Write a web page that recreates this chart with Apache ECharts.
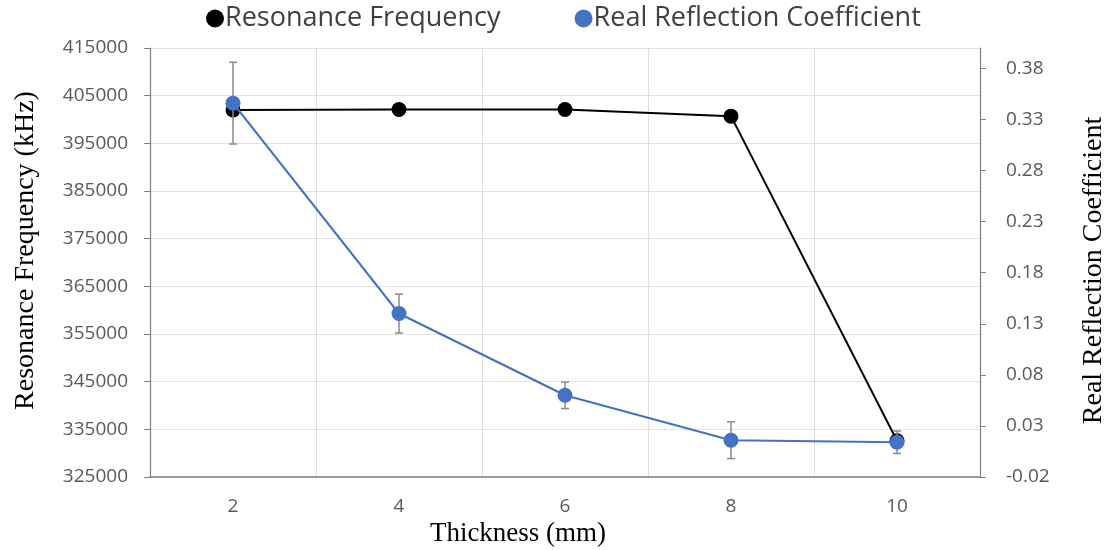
<!DOCTYPE html>
<html><head><meta charset="utf-8">
<script src="https://cdn.jsdelivr.net/npm/echarts@6/dist/echarts.min.js"></script>
<style>html,body{margin:0;padding:0;background:#fff}#c{width:1109px;height:550px}</style>
</head><body><div id="c"></div>
<script>
const thickness = ['2', '4', '6', '8', '10'];
const resonanceFreq = [402000, 402100, 402100, 400700, 332600];
const reflection = [0.346, 0.140, 0.060, 0.016, 0.014];
const reflectionErr = [0.040, 0.019, 0.013, 0.018, 0.011];
const freqTicks = { min: 325000, max: 415000, interval: 10000 };
const reflTicks = { min: -0.02, max: 0.40, interval: 0.05 };

const errData = thickness.map((t, i) => [i, reflection[i] - reflectionErr[i], reflection[i] + reflectionErr[i]]);

const chart = echarts.init(document.getElementById('c'), null, { renderer: 'canvas' });
const labelFont = 'Open Sans';
chart.setOption({
  animation: false,
  backgroundColor: '#fff',
  legend: {
    top: 0, left: 201,
    icon: 'circle', itemWidth: 18, itemHeight: 18, itemGap: 74,
    textStyle: { fontFamily: labelFont, fontSize: 27, color: '#404040', padding: [0, 0, 0, -4] },
    data: ['Resonance Frequency', 'Real Reflection Coefficient']
  },
  grid: { left: 150, right: 129, top: 48, bottom: 73, containLabel: false, outerBoundsMode: 'none' },
  xAxis: {
    type: 'category', data: thickness, boundaryGap: true,
    name: 'Thickness (mm)', nameLocation: 'middle', nameGap: 38,
    nameTextStyle: { fontFamily: 'Liberation Serif', fontSize: 27, color: '#000', padding: [0, 94, 0, 0] },
    axisLine: { onZero: false, lineStyle: { color: '#7f7f7f', width: 1.5 } },
    axisTick: { show: false },
    axisLabel: { fontFamily: labelFont, fontSize: 19, color: '#595959', margin: 20 },
    splitLine: { show: true, lineStyle: { color: '#dedede', width: 1 } }
  },
  yAxis: [{
    type: 'value', min: freqTicks.min, max: freqTicks.max, interval: freqTicks.interval,
    name: 'Resonance Frequency (kHz)', nameLocation: 'middle', nameGap: 110, nameRotate: 90,
    nameTextStyle: { fontFamily: 'Liberation Serif', fontSize: 28, color: '#000', padding: [0, 0, 0, 24] },
    axisLine: { show: true, lineStyle: { color: '#7f7f7f', width: 1.2 } },
    axisTick: { show: true, length: 6, lineStyle: { color: '#7f7f7f' } },
    axisLabel: { fontFamily: labelFont, fontSize: 19, color: '#595959', margin: 22, formatter: v => String(v) },
    splitLine: { show: true, lineStyle: { color: '#e3e3e3', width: 1 } }
  }, {
    type: 'value', min: reflTicks.min, max: reflTicks.max, interval: reflTicks.interval,
    name: 'Real Reflection Coefficient', nameLocation: 'middle', nameGap: 100, nameRotate: 90,
    nameTextStyle: { fontFamily: 'Liberation Serif', fontSize: 28, color: '#000', padding: [0, 16, 0, 0] },
    axisLine: { show: true, lineStyle: { color: '#7f7f7f', width: 1.2 } },
    axisTick: { show: true, length: 6, lineStyle: { color: '#7f7f7f' } },
    axisLabel: { fontFamily: labelFont, fontSize: 19, color: '#595959', margin: 26, showMaxLabel: false,
      formatter: v => v.toFixed(2) },
    splitLine: { show: false }
  }],
  series: [{
    name: 'Resonance Frequency', type: 'line', yAxisIndex: 0, data: resonanceFreq,
    symbol: 'circle', symbolSize: 15, z: 3,
    itemStyle: { color: '#000' }, lineStyle: { color: '#000', width: 2 }
  }, {
    name: 'errbars', type: 'custom', yAxisIndex: 1, data: errData, z: 4,
    encode: { x: 0, y: [1, 2] },
    renderItem: (params, api) => {
      const x = api.value(0);
      const lo = api.coord([x, api.value(1)]);
      const hi = api.coord([x, api.value(2)]);
      const w = 4;
      const st = { stroke: '#8a8a8a', lineWidth: 1.5 };
      return { type: 'group', children: [
        { type: 'line', shape: { x1: lo[0], y1: lo[1], x2: hi[0], y2: hi[1] }, style: st },
        { type: 'line', shape: { x1: lo[0] - w, y1: lo[1], x2: lo[0] + w, y2: lo[1] }, style: st },
        { type: 'line', shape: { x1: hi[0] - w, y1: hi[1], x2: hi[0] + w, y2: hi[1] }, style: st }
      ]};
    }
  }, {
    name: 'Real Reflection Coefficient', type: 'line', yAxisIndex: 1, data: reflection,
    symbol: 'circle', symbolSize: 15, z: 5,
    itemStyle: { color: '#4472C4' }, lineStyle: { color: '#4472C4', width: 2.2 }
  }]
});
</script></body></html>
